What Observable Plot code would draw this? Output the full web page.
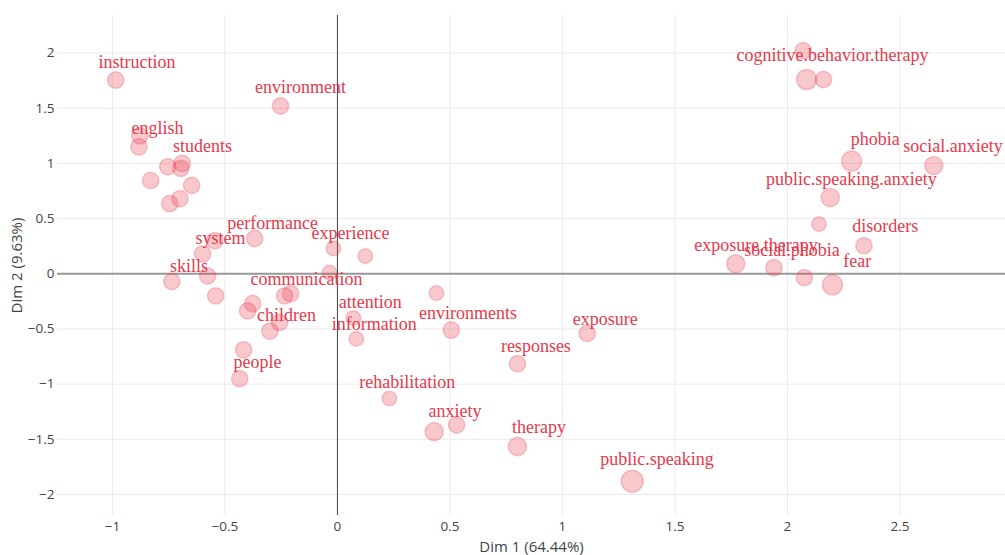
<!DOCTYPE html>
<html>
<head>
<meta charset="utf-8">
<script src="https://cdn.jsdelivr.net/npm/d3@7"></script>
<script src="https://cdn.jsdelivr.net/npm/@observablehq/plot@0.6"></script>
<style>
  html, body { margin: 0; padding: 0; background: #fff; }
  #chart svg { display: block; }
</style>
</head>
<body>
<div id="chart"></div>
<script>
// Word coordinates (Dim 1, Dim 2) and relative bubble weight
const pointX = [-0.985, -0.253, -0.878, -0.882, -0.754, -0.69, -0.696, -0.83, -0.648, -0.745, -0.70,
  -0.368, -0.545, -0.599, -0.736, -0.577, -0.541, -0.377, -0.399, -0.235, -0.208, -0.257, -0.30,
  -0.417, -0.434, -0.018, 0.124, -0.035, 0.071, 0.084, 0.44, 0.506, 0.80, 1.11, 0.231, 0.43, 0.53,
  0.80, 1.31, 2.07, 2.085, 2.16, 2.285, 2.65, 2.19, 2.14, 2.34, 1.77, 1.94, 2.075, 2.20];
const pointY = [1.755, 1.52, 1.25, 1.15, 0.97, 1.0, 0.955, 0.845, 0.80, 0.636, 0.68,
  0.32, 0.30, 0.18, -0.07, -0.02, -0.20, -0.27, -0.336, -0.20, -0.18, -0.44, -0.52,
  -0.69, -0.95, 0.23, 0.16, 0.01, -0.40, -0.59, -0.175, -0.51, -0.815, -0.54, -1.13, -1.43, -1.37,
  -1.565, -1.88, 2.02, 1.76, 1.76, 1.02, 0.98, 0.69, 0.45, 0.255, 0.09, 0.055, -0.035, -0.10];
const pointWeight = [2, 2, 2, 2, 2, 2, 2, 2, 2, 2, 2,
  2, 2, 2, 2, 2, 2, 2, 2, 2, 2, 2, 2,
  2, 2, 1, 1, 1, 1, 1, 1, 2, 2, 2, 1, 3, 2,
  3, 5, 2, 4, 2, 4, 3, 3, 1, 2, 3, 2, 2, 4];

const labelText = ["instruction", "environment", "english", "students", "performance", "system", "skills",
  "experience", "communication", "attention", "information", "environments", "exposure", "children",
  "people", "responses", "rehabilitation", "anxiety", "therapy", "public.speaking",
  "cognitive.behavior.therapy", "phobia", "social.anxiety", "public.speaking.anxiety", "disorders",
  "exposure.therapy", "social.phobia", "fear"];
const labelX = [-0.891, -0.164, -0.80, -0.60, -0.288, -0.52, -0.66,
  0.058, -0.137, 0.146, 0.164, 0.58, 1.19, -0.226,
  -0.355, 0.882, 0.31, 0.523, 0.896, 1.42,
  2.20, 2.39, 2.736, 2.284, 2.435,
  1.86, 2.02, 2.31];
const labelY = [1.92, 1.69, 1.315, 1.155, 0.46, 0.32, 0.07,
  0.37, -0.045, -0.255, -0.455, -0.36, -0.41, -0.38,
  -0.80, -0.66, -0.98, -1.245, -1.39, -1.68,
  1.98, 1.22, 1.155, 0.86, 0.43,
  0.255, 0.21, 0.11];

const xTicks = [-1, -0.5, 0, 0.5, 1, 1.5, 2, 2.5];
const yTicks = [-2, -1.5, -1, -0.5, 0, 0.5, 1, 1.5, 2];

const points = pointX.map((x, i) => ({x, y: pointY[i], w: pointWeight[i]}));
const labels = labelText.map((t, i) => ({t, x: labelX[i], y: labelY[i]}));
const fmt = d => String(d).replace("-", "\u2212");

const red = "#e8394a";
const chart = Plot.plot({
  width: 1005,
  height: 555,
  marginLeft: 57,
  marginRight: 0,
  marginTop: 15,
  marginBottom: 40,
  style: {fontFamily: "'Open Sans', sans-serif", fontSize: "13px", color: "#444", background: "#fff"},
  x: {domain: [-1.244, 2.969]},
  y: {domain: [-2.19, 2.34]},
  r: {type: "linear", domain: [1, 5], range: [7.3, 11]},
  marks: [
    Plot.gridX(xTicks, {stroke: "#ebebeb", strokeOpacity: 1}),
    Plot.gridY(yTicks, {stroke: "#ebebeb", strokeOpacity: 1}),
    Plot.ruleY([0], {stroke: "#999", strokeWidth: 2}),
    Plot.ruleX([0], {stroke: "#444", strokeWidth: 1}),
    Plot.axisX(xTicks, {tickSize: 0, tickPadding: 6, tickFormat: fmt, fontSize: 13.5,
      label: "Dim 1 (64.44%)", labelAnchor: "center", labelArrow: "none", labelOffset: 36}),
    Plot.axisY(yTicks, {tickSize: 0, tickPadding: 3, tickFormat: fmt, fontSize: 13.5,
      label: "Dim 2 (9.63%)", labelAnchor: "center", labelArrow: "none", labelOffset: 46}),
    Plot.dot(points, {x: "x", y: "y", r: "w", fill: red, fillOpacity: 0.28, stroke: red, strokeOpacity: 0.25, strokeWidth: 1.5}),
    Plot.text(labels, {x: "x", y: "y", text: "t", fill: red, fontSize: 18,
      fontFamily: "'Liberation Serif', 'DejaVu Serif', serif", textAnchor: "middle"})
  ]
});
// enlarge the axis titles relative to the tick labels
d3.select(chart).selectAll("[aria-label='x-axis label'] text, [aria-label='y-axis label'] text")
  .style("font-size", "15px");
document.getElementById("chart").appendChild(chart);
</script>
</body>
</html>
